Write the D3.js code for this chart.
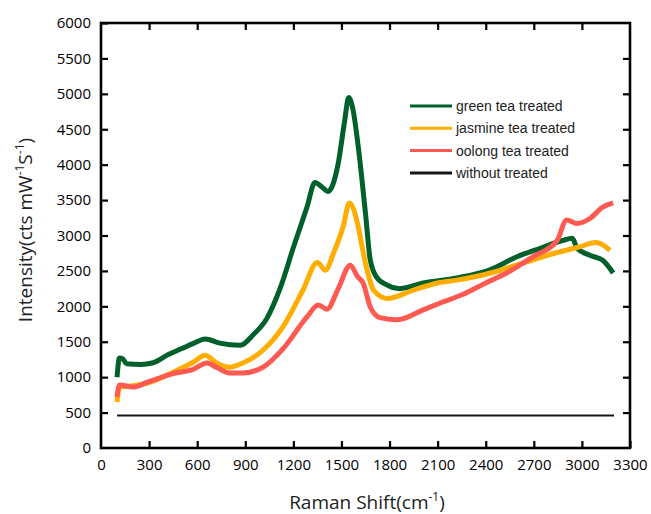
<!DOCTYPE html>
<html>
<head>
<meta charset="utf-8">
<script src="https://cdn.jsdelivr.net/npm/d3@7"></script>
<style>
  body { margin: 0; background: #fff; }
  svg { display: block; }
</style>
</head>
<body>
<div id="chart"></div>
<script>
// values: [Raman shift, intensity]
const green = [
  [100, 1000], [115, 1270], [135, 1260], [160, 1190], [250, 1180], [320, 1200],
  [420, 1320], [500, 1400], [580, 1480], [650, 1540], [740, 1480], [870, 1450],
  [950, 1600], [1035, 1830], [1120, 2270], [1200, 2830], [1285, 3400], [1335, 3750],
  [1380, 3680], [1415, 3620], [1480, 4020], [1520, 4620], [1545, 4950], [1570, 4800],
  [1605, 4250], [1650, 3310], [1680, 2650], [1720, 2410], [1785, 2300], [1865, 2250],
  [2010, 2330], [2220, 2400], [2430, 2520], [2595, 2700], [2740, 2820], [2880, 2930],
  [2940, 2960], [2970, 2820], [3050, 2720], [3130, 2650], [3195, 2470]
];
const jasmine = [
  [100, 650], [115, 860], [200, 880], [290, 915], [450, 1070], [575, 1210],
  [650, 1310], [720, 1200], [800, 1140], [885, 1200], [1010, 1380], [1135, 1710],
  [1260, 2230], [1350, 2620], [1400, 2510], [1450, 2750], [1510, 3120], [1550, 3460],
  [1600, 3170], [1630, 2830], [1660, 2510], [1700, 2230], [1785, 2110], [1950, 2230],
  [2100, 2330], [2220, 2370], [2430, 2470], [2630, 2610], [2845, 2760], [2970, 2830],
  [3090, 2900], [3175, 2790]
];
const oolong = [
  [100, 720], [115, 890], [200, 860], [290, 930], [450, 1050], [575, 1110],
  [660, 1200], [720, 1140], [800, 1060], [885, 1060], [1010, 1140], [1135, 1400],
  [1285, 1850], [1355, 2020], [1410, 1960], [1480, 2250], [1555, 2580], [1600, 2420],
  [1635, 2330], [1680, 1990], [1740, 1840], [1850, 1810], [2010, 1950], [2120, 2050],
  [2260, 2170], [2400, 2330], [2530, 2470], [2695, 2700], [2845, 2930], [2905, 3220],
  [2970, 3170], [3050, 3240], [3130, 3400], [3195, 3460]
];
const untreated = [[100, 460], [3200, 460]];

const seriesNames = ["green tea treated", "jasmine tea treated", "oolong tea treated", "without treated"];
const seriesColors = ["#00602b", "#ffad00", "#ff5a52", "#161616"];
const xTicks = d3.range(0, 3301, 300);
const yTicks = d3.range(0, 6001, 500);

const width = 651, height = 514;
const plotL = 101, plotR = 630, plotT = 23, plotB = 448;

const svg = d3.select("#chart").append("svg")
    .attr("width", width)
    .attr("height", height);

const x = d3.scaleLinear().domain([0, 3300]).range([plotL, plotR]);
const y = d3.scaleLinear().domain([0, 6000]).range([plotB, plotT]);

const line = d3.line().x(d => x(d[0])).y(d => y(d[1])).curve(d3.curveMonotoneX);

const all = [green, jasmine, oolong, untreated];
all.forEach((s, i) => {
  svg.append("path")
      .datum(s)
      .attr("fill", "none")
      .attr("stroke", seriesColors[i])
      .attr("stroke-width", i === 3 ? 2 : 5)
      .attr("stroke-linejoin", "round")
      .attr("d", line);
});

// axes: ticks inside on all four sides
const tickFont = "'Open Sans', sans-serif";
function styleAxis(g) {
  g.select(".domain").remove();
  g.selectAll(".tick line").attr("stroke", "#000").attr("stroke-width", 2.2);
  g.selectAll(".tick text").attr("font-family", tickFont).attr("font-size", 15).attr("fill", "#000");
}

svg.append("g")
    .attr("transform", `translate(0,${plotB})`)
    .call(d3.axisBottom(x).tickValues(xTicks).tickSize(-7).tickPadding(11).tickFormat(d3.format("d")))
    .call(styleAxis);
svg.append("g")
    .attr("transform", `translate(0,${plotT})`)
    .call(d3.axisTop(x).tickValues(xTicks.slice(1, -1)).tickSize(-7).tickFormat(""))
    .call(styleAxis);
svg.append("g")
    .attr("transform", `translate(${plotL},0)`)
    .call(d3.axisLeft(y).tickValues(yTicks).tickSize(-7).tickPadding(10).tickFormat(d3.format("d")))
    .call(styleAxis);
svg.append("g")
    .attr("transform", `translate(${plotR},0)`)
    .call(d3.axisRight(y).tickValues(yTicks.slice(1, -1)).tickSize(-7).tickFormat(""))
    .call(styleAxis);

// hide the 0 tick marks at the corners
svg.selectAll(".tick").filter(d => d === 0).select("line").remove();

svg.append("rect")
    .attr("x", plotL).attr("y", plotT)
    .attr("width", plotR - plotL).attr("height", plotB - plotT)
    .attr("fill", "none").attr("stroke", "#000").attr("stroke-width", 2.6);

// legend
const legend = svg.append("g").attr("transform", "translate(410,106)");
seriesNames.forEach((name, i) => {
  const row = legend.append("g").attr("transform", `translate(0,${i * 22.3})`);
  row.append("line")
      .attr("x1", 0).attr("x2", 42)
      .attr("stroke", seriesColors[i]).attr("stroke-width", 3);
  row.append("text")
      .attr("x", 46).attr("y", 5)
      .attr("font-family", "'Liberation Sans', Arial, sans-serif")
      .attr("font-size", 14)
      .attr("fill", "#222")
      .text(name);
});

// axis titles
const xt = svg.append("text")
    .attr("x", 367).attr("y", 509)
    .attr("text-anchor", "middle")
    .attr("font-family", tickFont).attr("font-size", 19).attr("fill", "#222");
xt.append("tspan").text("Raman Shift(cm");
xt.append("tspan").attr("dy", -8).attr("font-size", 12).text("-1");
xt.append("tspan").attr("dy", 8).text(")");

const yt = svg.append("text")
    .attr("transform", "translate(32,230) rotate(-90)")
    .attr("text-anchor", "middle")
    .attr("font-family", tickFont).attr("font-size", 19).attr("fill", "#222");
yt.append("tspan").text("Intensity(cts mW");
yt.append("tspan").attr("dy", -8).attr("font-size", 12).text("-1");
yt.append("tspan").attr("dy", 8).text("S");
yt.append("tspan").attr("dy", -8).attr("font-size", 12).text("-1");
yt.append("tspan").attr("dy", 8).text(")");
</script>
</body>
</html>
